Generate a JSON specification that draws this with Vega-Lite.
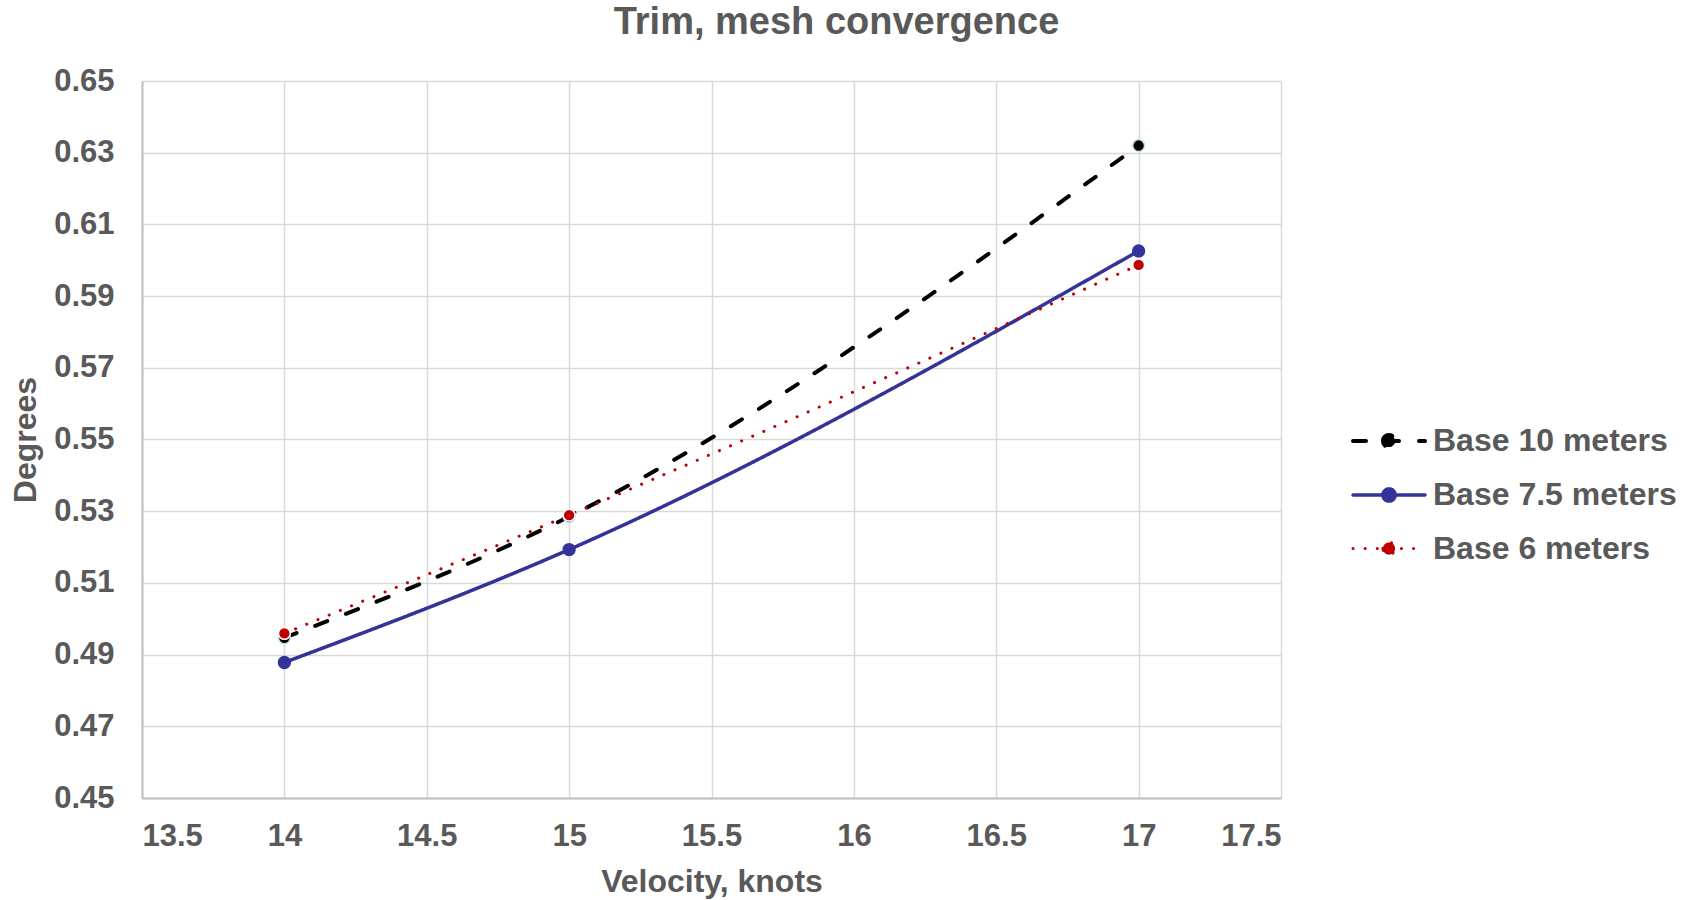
{
  "$schema": "https://vega.github.io/schema/vega-lite/v6.json",
  "width": 1139,
  "height": 717,
  "autosize": {"type": "none"},
  "padding": {"left": 142, "top": 81, "right": 407, "bottom": 102},
  "background": "#ffffff",
  "title": {
    "text": "Trim, mesh convergence",
    "anchor": "middle",
    "dx": 125,
    "offset": 23,
    "font": "Liberation Sans",
    "fontSize": 38,
    "fontWeight": "bold",
    "color": "#595959"
  },
  "config": {
    "view": {"stroke": null},
    "font": "Liberation Sans",
    "axis": {
      "labelFont": "Liberation Sans",
      "labelFontWeight": "bold",
      "labelColor": "#595959",
      "titleFont": "Liberation Sans",
      "titleFontWeight": "bold",
      "titleColor": "#595959",
      "gridColor": "#d9d9d9",
      "gridWidth": 1.5,
      "domainColor": "#bfbfbf",
      "domainWidth": 2,
      "ticks": false
    }
  },
  "data": {
    "values": [
      {"v": 14, "deg": 0.4947, "series": "Base 10 meters"},
      {"v": 15, "deg": 0.5285, "series": "Base 10 meters"},
      {"v": 17, "deg": 0.632, "series": "Base 10 meters"},
      {"v": 14, "deg": 0.4878, "series": "Base 7.5 meters"},
      {"v": 15, "deg": 0.5193, "series": "Base 7.5 meters"},
      {"v": 17, "deg": 0.6026, "series": "Base 7.5 meters"},
      {"v": 14, "deg": 0.4959, "series": "Base 6 meters"},
      {"v": 15, "deg": 0.5289, "series": "Base 6 meters"},
      {"v": 17, "deg": 0.5987, "series": "Base 6 meters"}
    ]
  },
  "encoding": {
    "x": {
      "field": "v",
      "type": "quantitative",
      "scale": {"domain": [13.5, 17.5], "nice": false, "zero": false},
      "axis": {
        "values": [13.5, 14, 14.5, 15, 15.5, 16, 16.5, 17, 17.5],
        "format": "~g",
        "title": "Velocity, knots",
        "labelFontSize": 31,
        "labelPadding": 23,
        "titleFontSize": 32,
        "titlePadding": 15
      }
    },
    "y": {
      "field": "deg",
      "type": "quantitative",
      "scale": {"domain": [0.45, 0.65], "nice": false, "zero": false},
      "axis": {
        "values": [0.45, 0.47, 0.49, 0.51, 0.53, 0.55, 0.57, 0.59, 0.61, 0.63, 0.65],
        "format": ".2f",
        "title": "Degrees",
        "labelFontSize": 31,
        "labelPadding": 28,
        "titleFontSize": 32,
        "titlePadding": 11
      }
    },
    "color": {
      "field": "series",
      "type": "nominal",
      "scale": {
        "domain": ["Base 10 meters", "Base 7.5 meters", "Base 6 meters"],
        "range": ["#000000", "#333399", "#c00000"]
      },
      "legend": {
        "title": null,
        "orient": "none",
        "legendX": 1209,
        "legendY": 322,
        "symbolType": "M-1,0L1,0M-0.17,0A0.17,0.17 0 1,1 0.17,0A0.17,0.17 0 1,1 -0.17,0",
        "symbolSize": 5184,
        "labelFont": "Liberation Sans",
        "labelFontSize": 32,
        "labelFontWeight": "bold",
        "labelColor": "#595959",
        "labelOffset": 6,
        "rowPadding": -6,
        "labelLimit": 400,
        "encode": {
          "symbols": {
            "update": {
              "fill": {"scale": "color", "field": "value"},
              "strokeCap": {"value": "round"}
            }
          }
        }
      }
    }
  },
  "layer": [
    {
      "mark": {"type": "line", "interpolate": "monotone", "strokeCap": "round"},
      "encoding": {
        "strokeDash": {
          "field": "series",
          "type": "nominal",
          "scale": {
            "domain": ["Base 10 meters", "Base 7.5 meters", "Base 6 meters"],
            "range": [[13, 20], [1, 0], [0.1, 12]]
          },
          "legend": {"title": null}
        },
        "strokeWidth": {
          "field": "series",
          "type": "nominal",
          "scale": {
            "domain": ["Base 10 meters", "Base 7.5 meters", "Base 6 meters"],
            "range": [4, 3, 5.5]
          },
          "legend": null
        }
      }
    },
    {
      "mark": {"type": "point", "filled": true, "opacity": 1, "strokeWidth": 1.5, "size": 140},
      "encoding": {
        "stroke": {
          "field": "series",
          "type": "nominal",
          "scale": {
            "domain": ["Base 10 meters", "Base 7.5 meters", "Base 6 meters"],
            "range": ["#bfe4e8", "#333399", "#ffffff"]
          },
          "legend": null
        }
      }
    }
  ]
}
